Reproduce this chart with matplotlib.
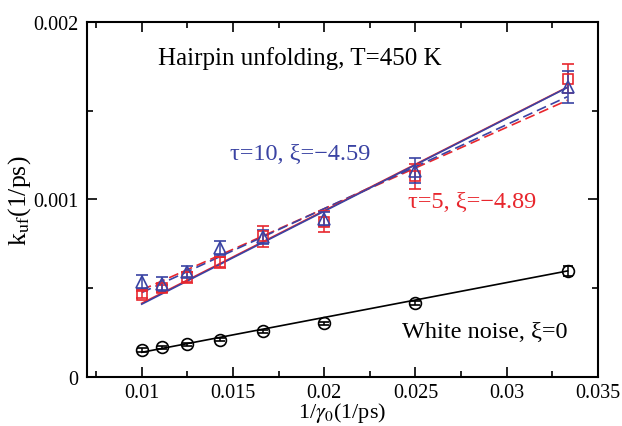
import matplotlib
matplotlib.use("Agg")
import matplotlib.pyplot as plt
from matplotlib.ticker import MultipleLocator, FixedLocator
import numpy as np

# ---- data ----
inv_gamma = [0.01, 0.01111, 0.0125, 0.01429, 0.01667, 0.02, 0.025, 0.03333]
white_k = [0.000152, 0.000167, 0.000184, 0.000210, 0.000257, 0.000302, 0.000418, 0.000597]
white_err = [0.00001, 0.00001, 0.00001, 0.00001, 0.00001, 0.00001, 0.00001, 0.00003]
tau5_k = [0.000462, 0.000499, 0.000561, 0.000645, 0.000792, 0.000875, 0.00113, 0.00168]
tau5_err = [0.00002, 0.00002, 0.00003, 0.00003, 0.00006, 0.00006, 0.00007, 0.00008]
tau10_k = [0.000536, 0.000525, 0.000593, 0.000724, 0.00079, 0.000890, 0.00116, 0.00163]
tau10_err = [0.00004, 0.00004, 0.00003, 0.00004, 0.00004, 0.00004, 0.00007, 0.00009]

fit_x = [0.01, 0.03333]
white_fit = [0.000139, 0.000597]
tau5_solid = [0.000415, 0.001632]
tau10_solid = [0.000410, 0.001630]
tau5_dash = [0.000490, 0.001558]
tau10_dash = [0.000475, 0.001578]

x_ticks = [0.01, 0.015, 0.02, 0.025, 0.03, 0.035]
x_ticklabels = ["0.01", "0.015", "0.02", "0.025", "0.03", "0.035"]
y_ticks = [0, 0.001, 0.002]
y_ticklabels = ["0", "0.001", "0.002"]

RED = "#e8262d"
BLUE = "#3a43a3"

plt.rcParams['font.family'] = ['Liberation Serif', 'DejaVu Serif']
plt.rcParams['mathtext.fontset'] = 'stix'

fig = plt.figure(figsize=(6.22, 4.27), dpi=100)
ax = fig.add_axes([87/622, 1-378/427, (598-87)/622, (378-22.7)/427])

# fit lines
ax.plot(fit_x, white_fit, color='black', lw=1.2)
ax.plot(fit_x, tau5_dash, color=RED, lw=1.2, ls=(0, (6, 3)))
ax.plot(fit_x, tau10_dash, color=BLUE, lw=1.2, ls=(0, (6, 3)))
ax.plot(fit_x, tau5_solid, color=RED, lw=1.2)
ax.plot(fit_x, tau10_solid, color=BLUE, lw=1.2)

# data points
ax.errorbar(inv_gamma, white_k, yerr=white_err, fmt='o', mfc='none', mec='black',
            ecolor='black', ms=8.5, mew=1.2, capsize=3.5, elinewidth=1.1, capthick=1.1)
ax.errorbar(inv_gamma, tau5_k, yerr=tau5_err, fmt='s', mfc='none', mec=RED,
            ecolor=RED, ms=7, mew=1.2, capsize=4, elinewidth=1.1, capthick=1.1)
ax.errorbar(inv_gamma, tau10_k, yerr=tau10_err, fmt='^', mfc='none', mec=BLUE,
            ecolor=BLUE, ms=8, mew=1.2, capsize=4, elinewidth=1.1, capthick=1.1)

ax.set_xlim(0.007, 0.035)
ax.set_ylim(0, 0.002)
ax.xaxis.set_major_locator(FixedLocator(x_ticks))
ax.set_xticklabels(x_ticklabels)
ax.xaxis.set_minor_locator(MultipleLocator(0.0025))
ax.yaxis.set_major_locator(FixedLocator(y_ticks))
ax.set_yticklabels(y_ticklabels)
ax.yaxis.set_minor_locator(MultipleLocator(0.0005))
ax.tick_params(which='both', direction='in', top=True, right=True, width=1.2)
ax.tick_params(which='major', length=7, labelsize=14.5, pad=6)
ax.tick_params(axis='x', which='major', pad=4)
ax.tick_params(which='minor', length=4)
for s in ax.spines.values():
    s.set_linewidth(1.5)

ax.set_xlabel(r'1/$\gamma_0$(1/ps)', fontsize=16, labelpad=-1)
ax.set_ylabel(r'k$_{\mathrm{uf}}$(1/ps)', fontsize=18.5, labelpad=0)

ax.text(0.01867, 0.00180, 'Hairpin unfolding, T=450 K', fontsize=18, ha='center', va='center')
ax.text(0.01867, 0.00126, 'τ=10, ξ=−4.59', fontsize=17.5, ha='center', va='center', color=BLUE)
ax.text(0.0281, 0.000991, 'τ=5, ξ=−4.89', fontsize=17.5, ha='center', va='center', color=RED)
ax.text(0.0288, 0.000259, 'White noise, ξ=0', fontsize=17.5, ha='center', va='center')

fig.savefig('out.png', dpi=100)
